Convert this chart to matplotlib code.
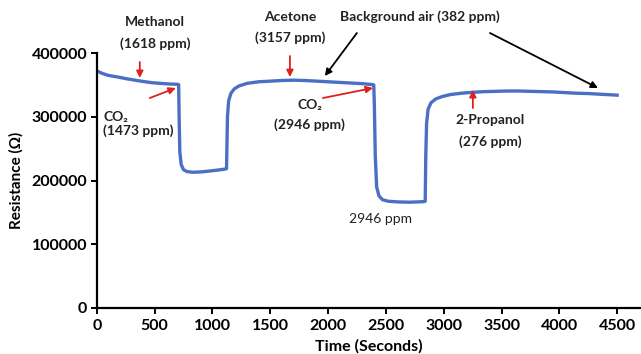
import matplotlib.pyplot as plt

plt.rcParams['font.family'] = ['Lato', 'DejaVu Sans']
plt.rcParams['font.weight'] = 'bold'

# sensor response, time in seconds / resistance in ohm
time_s = [0, 50, 100, 180, 250, 330, 400, 480, 550, 630, 700, 708,
          712, 718, 730, 750, 780, 830, 900, 980, 1050, 1110, 1122,
          1126, 1130, 1140, 1160, 1190, 1230, 1300, 1400, 1500, 1600,
          1700, 1800, 1900, 2000, 2100, 2200, 2300, 2388, 2395, 2400,
          2408, 2420, 2440, 2470, 2520, 2600, 2700, 2780, 2830, 2840,
          2845, 2852, 2865, 2890, 2930, 2990, 3060, 3150, 3250, 3350,
          3450, 3550, 3650, 3750, 3850, 3950, 4050, 4150, 4250, 4350,
          4450, 4500]
resistance = [372000, 368000, 365000, 362500, 360000, 357500, 355500,
              353500, 352500, 351500, 351000, 350500,
              300000, 245000, 225000, 217000, 214000, 213000, 213500,
              215000, 216500, 218000, 218500,
              260000, 300000, 325000, 337000, 344000, 348500, 352500,
              355000, 356000, 357000, 357500, 357000, 356000, 355000,
              354000, 353000, 352000, 350500, 350000, 320000,
              240000, 190000, 176000, 170000, 167500, 166500, 166000,
              166500, 167000, 167500,
              240000, 290000, 312000, 322000, 328000, 332000, 335000,
              337000, 338500, 339500, 340000, 340500, 340500, 340000,
              339500, 339000, 338000, 337000, 336500, 335500, 334500,
              334000]

x_ticks = [0, 500, 1000, 1500, 2000, 2500, 3000, 3500, 4000, 4500]
y_ticks = [0, 100000, 200000, 300000, 400000]

# gas labels: (text, x, y, weight)
labels = [
    ('Methanol', 502, 448700, 'bold'),
    ('(1618 ppm)', 502, 414200, 'bold'),
    ('Acetone', 1670, 456600, 'bold'),
    ('(3157 ppm)', 1670, 423600, 'bold'),
    ('Background air (382 ppm)', 2794, 456600, 'bold'),
    ('CO₂', 165, 299700, 'bold'),
    ('(1473 ppm)', 355, 277700, 'bold'),
    ('CO₂', 1842, 318500, 'bold'),
    ('(2946 ppm)', 1842, 287100, 'bold'),
    ('2-Propanol', 3400, 295000, 'bold'),
    ('(276 ppm)', 3400, 260500, 'bold'),
    ('2946 ppm', 2457, 139600, 'normal'),
]

# arrows: (x_tail, y_tail, x_head, y_head, colour)
arrows = [
    (372, 386000, 372, 361000, '#e0201c'),
    (458, 329500, 683, 345200, '#e0201c'),
    (1670, 395400, 1670, 362400, '#e0201c'),
    (1955, 329500, 2388, 345200, '#e0201c'),
    (3252, 313800, 3252, 342000, '#e0201c'),
    (2249, 431500, 1972, 364000, 'black'),
    (3400, 431500, 4334, 345200, 'black'),
]

fig = plt.figure(figsize=(6.41, 3.54), dpi=100)
ax = fig.add_axes([0.151, 0.130, 0.849, 0.720])

ax.plot(time_s, resistance, color='#4a6fc4', lw=2.4)

ax.set_xlim(0, 4706)
ax.set_ylim(0, 400000)
ax.set_xticks(x_ticks)
ax.set_yticks(y_ticks)
ax.tick_params(labelsize=11.5, width=1.4, length=4, direction='out')
ax.tick_params(axis='x', pad=4)
ax.tick_params(axis='y', pad=3)
for lab in ax.get_xticklabels() + ax.get_yticklabels():
    lab.set_fontweight('bold')
for s in ['top', 'right']:
    ax.spines[s].set_visible(False)
for s in ['left', 'bottom']:
    ax.spines[s].set_linewidth(1.6)

ax.set_xlabel('Time (Seconds)', fontsize=11.5, fontweight='bold', labelpad=4)
ax.set_ylabel('Resistance (Ω)', fontsize=11, fontweight='bold', labelpad=6)

for txt, x, y, w in labels:
    ax.text(x, y, txt, fontsize=10, fontweight=w, ha='center', va='center',
            color='#222222', clip_on=False)

for x0, y0, x1, y1, c in arrows:
    ax.annotate('', xy=(x1, y1), xytext=(x0, y0), annotation_clip=False,
                arrowprops=dict(arrowstyle='-|>', color=c, lw=1.3,
                                mutation_scale=10, shrinkA=0, shrinkB=0))

plt.savefig('out.png', dpi=100)
